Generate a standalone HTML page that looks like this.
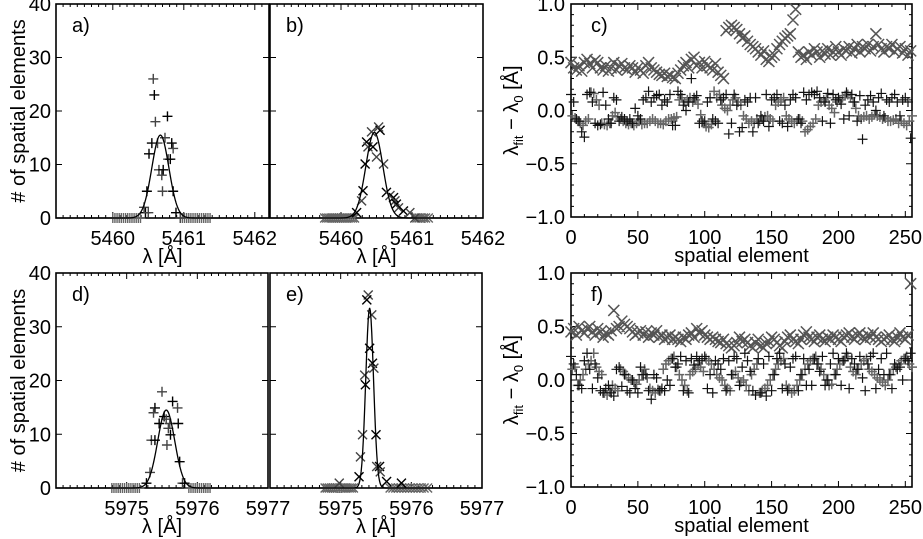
<!DOCTYPE html>
<html><head><meta charset="utf-8"><style>
html,body{margin:0;padding:0;background:#fff;}
svg{display:block;font-family:"Liberation Sans",Arial,sans-serif;}
</style></head><body>
<svg id="fig" width="923" height="539" viewBox="0 0 923 539" xmlns="http://www.w3.org/2000/svg"></svg>
<script>
// ---------- data ----------
// panel a (+)
const aPeakLam=[5460.57,5460.585,5460.60,5460.77,5460.735,5460.55,5460.63,5460.83,5460.85,5460.51,5460.78,5460.81,5460.65,5460.71,5460.69,5460.48,5460.70,5460.85,5460.44,5460.46,5460.50,5460.89,5460.95];
const aPeakCnt=[26,23,18,19,15,14,14,14,13,12,11,11,9,9,8,5,5,5,2,1,1,1,0];
const aZeroLam=[5460.0,5460.03,5460.06,5460.09,5460.12,5460.15,5460.18,5460.21,5460.24,5460.27,5460.3,5460.33,5460.36,5460.39,5460.98,5461.01,5461.04,5461.07,5461.1,5461.13,5461.16,5461.19,5461.22,5461.25,5461.28,5461.31,5461.34,5461.37];
const aFit=[15.5,5460.67,0.12];
// panel b (x)
const bPeakLam=[5460.43,5460.36,5460.38,5460.45,5460.50,5460.34,5460.60,5460.55,5460.53,5460.31,5460.29,5460.64,5460.69,5460.74,5460.76,5460.78,5460.81,5460.88,5460.97,5460.22,5461.04];
const bPeakCnt=[16.1,14.2,13.3,13.3,11.4,10.1,10.1,16.4,17.0,5.1,3.2,4.8,4.2,3.8,3.2,2.6,1.9,1.3,1.0,1.0,0];
const bZeroLam=[5459.77,5459.8,5459.83,5459.86,5459.89,5459.92,5459.95,5459.98,5460.01,5460.04,5460.07,5460.1,5460.13,5460.16,5460.19,5461.07,5461.1,5461.13,5461.16,5461.19,5461.23];
const bFit=[16.0,5460.47,0.12];
// panel d (+)
const dPeakLam=[5975.50,5975.65,5975.72,5975.40,5975.38,5975.53,5975.56,5975.46,5975.61,5975.73,5975.59,5975.62,5975.35,5975.40,5975.57,5975.75,5975.33,5975.28,5975.79,5975.82];
const dPeakCnt=[17.9,16.1,14.9,14.9,14.0,13.3,12.8,12.0,12.0,12.0,11.1,9.9,8.9,8.9,8.0,4.9,2.9,0.9,0.9,0.9];
const dZeroLam=[5974.79,5974.82,5974.85,5974.88,5974.91,5974.94,5974.97,5975.0,5975.03,5975.06,5975.09,5975.12,5975.15,5975.18,5975.88,5975.91,5975.94,5975.97,5976.0,5976.03,5976.06,5976.09,5976.12,5976.15,5976.18];
const dFit=[14.5,5975.56,0.12];
// panel e (x)
const ePeakLam=[5975.39,5975.37,5975.44,5975.41,5975.34,5975.45,5975.47,5975.35,5975.31,5975.50,5975.28,5975.26,5975.51,5975.55,5975.56,5975.65,5974.98,5975.86];
const ePeakCnt=[35.9,35.0,32.2,26.0,21.0,23.2,22.3,19.2,9.9,9.9,5.8,2.1,4.0,4.0,3.0,1.2,0.9,0.9];
const eZeroLam=[5974.78,5974.81,5974.84,5974.87,5974.9,5974.93,5974.96,5975.0,5975.03,5975.06,5975.09,5975.12,5975.15,5975.18,5975.7,5975.74,5975.78,5975.82,5975.86,5975.9,5975.94,5975.98,5976.02,5976.06,5976.1,5976.14,5976.18,5976.23];
const eFit=[33.5,5975.41,0.055];
// panel c
const cStep=2;
const cCross=[.45,.40,.38,.42,.37,.45,.48,.44,.40,.47,.45,.40,.38,.42,.37,.40,.45,.38,.42,.44,.40,.38,.42,.40,.36,.40,.38,.35,.42,.45,.40,.38,.36,.34,.33,.35,.32,.33,.31,.30,.35,.38,.42,.45,.40,.48,.50,.42,.45,.40,.46,.42,.40,.38,.44,.36,.33,.30,.75,.78,.80,.78,.76,.72,.68,.70,.65,.62,.60,.58,.55,.52,.56,.48,.46,.50,.52,.58,.62,.65,.68,.70,.72,.85,.95,.55,.50,.52,.48,.55,.52,.58,.55,.50,.56,.53,.58,.52,.55,.60,.55,.52,.58,.56,.60,.54,.58,.62,.55,.60,.58,.62,.56,.60,.72,.62,.58,.55,.60,.58,.62,.55,.58,.60,.54,.58,.52,.56];
const cPlusDark=[.15,.08,-.08,-.10,-.20,-.25,.15,.17,.08,-.12,-.14,-.13,.17,.05,-.08,-.12,.12,.10,-.10,-.06,-.08,-.10,-.08,-.12,.02,-.05,-.08,.10,.12,.18,.08,.12,.14,.15,.05,.10,.08,.15,-.14,-.14,.18,.15,.05,.00,.08,.30,.12,.14,-.12,-.10,-.10,.08,.12,-.08,-.10,-.12,.10,.12,.15,-.22,-.12,.15,.05,-.20,-.16,.10,.08,.12,-.20,.12,-.12,-.05,-.10,.15,-.15,.10,.12,.15,-.10,-.12,.05,-.15,.10,.15,.12,-.08,-.12,.17,.10,.15,.17,.15,.18,.12,-.10,.08,.16,-.12,.15,.10,.12,.06,-.08,.17,-.05,.15,.08,-.10,.14,-.27,.05,.10,.14,.08,.00,.12,.16,-.05,.10,.08,.12,.15,.08,-.05,.10,.12,.08,-.26];
const cPlusGrey=[-.05,-.07,-.10,-.12,-.14,-.10,-.08,.17,.16,.10,.05,-.12,-.13,-.14,-.12,-.05,-.02,-.06,-.08,-.10,-.12,-.13,-.12,-.14,-.12,-.10,-.13,-.12,-.12,-.10,-.08,-.10,-.12,-.12,-.13,-.10,-.08,-.08,-.07,-.06,.10,.12,.08,.10,.12,.08,.10,.06,-.04,-.12,-.15,-.16,-.13,.18,.12,.15,.05,.02,.00,.05,.10,.12,.08,.05,-.05,-.08,-.12,-.10,-.12,-.08,-.10,-.08,-.06,-.05,-.08,-.10,.05,.08,.10,.12,-.05,-.08,-.10,-.12,-.10,-.08,-.10,-.20,-.18,-.15,-.12,-.08,.05,.08,.10,.12,.05,.02,-.02,.08,.10,.12,.14,.15,.12,.08,.02,-.05,-.08,-.06,-.05,-.08,-.06,-.04,-.05,-.06,-.08,-.07,-.10,-.10,-.09,-.08,-.12,-.10,-.12,-.14,-.10,-.05];
// panel f
const fCross=[.45,.48,.42,.50,.46,.44,.48,.50,.45,.42,.48,.45,.40,.44,.42,.46,.65,.48,.50,.55,.52,.50,.48,.45,.42,.44,.46,.42,.45,.40,.44,.42,.46,.40,.42,.38,.40,.42,.38,.40,.38,.36,.40,.38,.42,.44,.40,.48,.44,.46,.42,.40,.38,.40,.38,.36,.35,.38,.34,.32,.30,.32,.35,.40,.36,.38,.35,.32,.30,.35,.38,.32,.30,.34,.36,.40,.38,.35,.32,.30,.36,.40,.42,.38,.36,.34,.38,.42,.45,.40,.38,.36,.40,.42,.38,.36,.40,.38,.42,.40,.38,.36,.40,.42,.44,.40,.38,.42,.44,.40,.38,.42,.40,.44,.40,.38,.36,.38,.40,.42,.38,.36,.40,.44,.40,.38,.42,.90];
const fPlusDark=[.22,.15,.05,-.05,-.08,.18,.25,.10,-.08,.15,.02,-.10,-.12,-.08,-.05,-.12,-.15,.10,.12,-.06,.05,-.10,-.12,.00,-.08,-.12,.12,.05,.05,-.10,-.18,.05,.02,-.10,-.08,-.10,.00,-.05,.20,.12,.15,.22,-.10,.18,-.12,.20,.14,.22,.18,.20,.22,-.08,.05,-.12,.18,.15,.10,.20,-.10,.18,.05,.22,.20,-.05,.12,.25,.18,.08,-.10,-.14,.20,-.12,.15,-.15,.22,-.10,.05,.20,.25,-.08,.15,-.10,.12,.20,.22,-.10,.05,.20,-.05,.10,-.05,.20,.15,.08,.22,-.05,.00,.15,.25,.05,.20,-.05,.18,.25,-.08,.20,.15,.10,.22,.02,-.10,.15,.22,.25,-.08,.10,.20,.05,.25,.05,-.08,.15,.10,.12,.00,.20,.18,.25];
const fPlusGrey=[.10,.12,-.05,.00,.05,.10,.15,.18,.25,.12,.08,.05,-.12,-.14,-.10,-.05,-.08,-.10,.10,.08,.05,.02,.00,-.02,-.04,.00,.05,.10,.02,-.08,-.10,-.12,-.09,-.10,.10,.15,.18,.20,.22,.12,.05,.00,-.05,-.10,.05,.08,.10,.15,.12,.08,.20,.18,.15,.10,.05,.02,.00,-.05,-.08,-.10,.05,.08,.02,-.02,.00,-.05,-.10,.05,.10,.15,-.12,-.10,-.08,-.05,.00,.05,.10,.15,.18,.20,-.05,-.08,-.12,-.10,-.05,.00,.05,.10,.15,.18,.20,.22,.15,.10,.05,.00,-.05,-.04,.05,.10,.15,.18,.20,.22,.12,.08,.05,.10,.15,.18,.20,.10,.08,.05,.02,.00,-.02,-.05,.00,.05,.10,.12,.15,.18,.20,.22,.15,.12];
const histYTicks=[0,10,20,30,40];
const offYTicks=[-1.0,-0.5,0.0,0.5,1.0];
const offYTickLabels=["\u22121.0","\u22120.5","0.0","0.5","1.0"];
const offXTicks=[0,50,100,150,200,250];

// ---------- drawing ----------
const NS="http://www.w3.org/2000/svg";
const svg=document.getElementById('fig');
const FS=20;
function el(tag,attrs,parent){const e=document.createElementNS(NS,tag);for(const k in attrs)e.setAttribute(k,attrs[k]);(parent||svg).appendChild(e);return e;}
function txt(s,x,y,anchor,size,parent,rot){const t=el('text',{x:x,y:y,'text-anchor':anchor,'font-size':size,fill:'#000'},parent);if(rot)t.setAttribute('transform','rotate(-90 '+x+' '+y+')');t.textContent=s;return t;}
function plusPath(x,y,r){return 'M'+(x-r)+' '+y+'H'+(x+r)+'M'+x+' '+(y-r)+'V'+(y+r);}
function crossPath(x,y,r){return 'M'+(x-r)+' '+(y-r)+'L'+(x+r)+' '+(y+r)+'M'+(x+r)+' '+(y-r)+'L'+(x-r)+' '+(y+r);}

function frame(g,L,T,R,B){
  const r=el('rect',{x:L,y:T,width:R-L,height:B-T,fill:'none',stroke:'#000','stroke-width':1.6},g);
  
  
}

function histPanel(name,L,R,T,B,x0,x1,majors,minorStep,showY,letter,peakLam,peakCnt,zeroLam,fit,marker,xTickLabels){
  const g=el('g',{});
  
  
  const sx=v=>L+(v-x0)/(x1-x0)*(R-L);
  const sy=v=>B-v/40*(B-T);
  frame(g,L,T,R,B);
  let d='';
  for(let v=Math.ceil(x0/minorStep)*minorStep;v<=x1+1e-9;v+=minorStep){const px=sx(v);d+='M'+px+' '+B+'v-3M'+px+' '+T+'v3';}
  majors.forEach(v=>{const px=sx(v);d+='M'+px+' '+B+'v-6M'+px+' '+T+'v6';});
  histYTicks.forEach(v=>{const py=sy(v);d+='M'+L+' '+py+'h6M'+R+' '+py+'h-6';});
  const tk=el('path',{d:d,stroke:'#000','stroke-width':1,fill:'none'},g);
  
  
  majors.forEach((v,i)=>{const t=txt(xTickLabels[i],sx(v),B+27,'middle',FS,g);
    
    });
  if(showY){histYTicks.forEach(v=>{const t=txt(String(v),L-5,sy(v)+7,'end',FS,g);
    
    });
    const yt=txt('# of spatial elements',25,(T+B)/2,'middle',FS,g,true);
    
    }
  const xt=txt('\u03bb [\u00c5]',(L+R)/2,B+45,'middle',FS,g);
  
  
  const lt=txt(letter,L+16,T+28,'start',FS,g);
  
  
  const r=marker==='+'?5:4.5;
  let zd='';zeroLam.forEach(v=>{zd+=(marker==='+'?plusPath:crossPath)(sx(v),sy(0),r);});
  const zp=el('path',{d:zd,stroke:'#666','stroke-width':1.4,fill:'none'},g);
  
  
  peakLam.forEach((v,i)=>{
    const p=el('path',{d:(marker==='+'?plusPath:crossPath)(sx(v),sy(peakCnt[i]),r),stroke:i%2?'#000':'#444','stroke-width':1.4,fill:'none'},g);
    
    
  });
  let fd='';const N=300;
  for(let k=0;k<=N;k++){const lam=x0+(x1-x0)*k/N;const v=fit[0]*Math.exp(-0.5*Math.pow((lam-fit[1])/fit[2],2));fd+=(k?'L':'M')+sx(lam).toFixed(2)+' '+sy(v).toFixed(2);}
  const fl=el('path',{d:fd,stroke:'#000','stroke-width':1.3,fill:'none'},g);
  
  
}

function offPanel(name,L,R,T,B,letter,cross,plusDark,plusGrey){
  const g=el('g',{});
  
  
  const sx=v=>L+v/255*(R-L);
  const sy=v=>B-(v+1)/2*(B-T);
  const cyv=v=>Math.max(T,Math.min(B,sy(v)));
  frame(g,L,T,R,B);
  let d='';
  for(let v=0;v<=255;v+=10){const px=sx(v);const len=(v%50===0)?6:3;d+='M'+px+' '+B+'v-'+len+'M'+px+' '+T+'v'+len;}
  for(let k=-10;k<=10;k++){const py=sy(k/10);const len=(k%5===0)?6:3;d+='M'+L+' '+py+'h'+len+'M'+R+' '+py+'h-'+len;}
  const tk=el('path',{d:d,stroke:'#000','stroke-width':1,fill:'none'},g);
  
  
  offXTicks.forEach(v=>{const t=txt(String(v),sx(v),B+27,'middle',FS,g);
    
    });
  offYTicks.forEach((v,i)=>{const t=txt(offYTickLabels[i],L-6,sy(v)+7,'end',FS,g);
    
    });
  const xt=txt('spatial element',(L+R)/2,B+45,'middle',FS,g);
  
  
  const cy=(T+B)/2;
  const yt=el('text',{x:518,y:cy,'text-anchor':'middle','font-size':FS,transform:'rotate(-90 518 '+cy+')'},g);
  
  
  yt.innerHTML='\u03bb<tspan font-size="13" dy="5">fit</tspan><tspan dy="-5"> \u2212 \u03bb</tspan><tspan font-size="13" dy="5">0</tspan><tspan dy="-5"> [\u00c5]</tspan>';
  const lt=txt(letter,L+20,T+28,'start',FS,g);
  
  
  let cd='';cross.forEach((v,i)=>{cd+=crossPath(sx(i*cStep),cyv(v),5.5);});
  const cp=el('path',{d:cd,stroke:'#555','stroke-width':1.5,fill:'none'},g);
  
  
  let gd='';plusGrey.forEach((v,i)=>{gd+=plusPath(sx(i*cStep+1),cyv(v),5);});
  const gp=el('path',{d:gd,stroke:'#666','stroke-width':1.5,fill:'none'},g);
  
  
  let pd='';plusDark.forEach((v,i)=>{pd+=plusPath(sx(i*cStep),cyv(v),5);});
  const pp=el('path',{d:pd,stroke:'#111','stroke-width':1.2,fill:'none'},g);
  
  
}

histPanel('a',56,269,4,218,5459.2,5462.2,[5460,5461,5462],0.1,true,'a)',aPeakLam,aPeakCnt,aZeroLam,aFit,'+',['5460','5461','5462']);
histPanel('b',270,483,4,218,5459.0,5462.0,[5460,5461,5462],0.1,false,'b)',bPeakLam,bPeakCnt,bZeroLam,bFit,'x',['5460','5461','5462']);
histPanel('d',56,268,273,488,5974,5977,[5975,5976,5977],0.1,true,'d)',dPeakLam,dPeakCnt,dZeroLam,dFit,'+',['5975','5976','5977']);
histPanel('e',270,482,273,488,5974,5977,[5975,5976,5977],0.1,false,'e)',ePeakLam,ePeakCnt,eZeroLam,eFit,'x',['5975','5976','5977']);
offPanel('c',571,912,4,217,'c)',cCross,cPlusDark,cPlusGrey);
offPanel('f',571,912,273,487,'f)',fCross,fPlusDark,fPlusGrey);
</script>
</body></html>
